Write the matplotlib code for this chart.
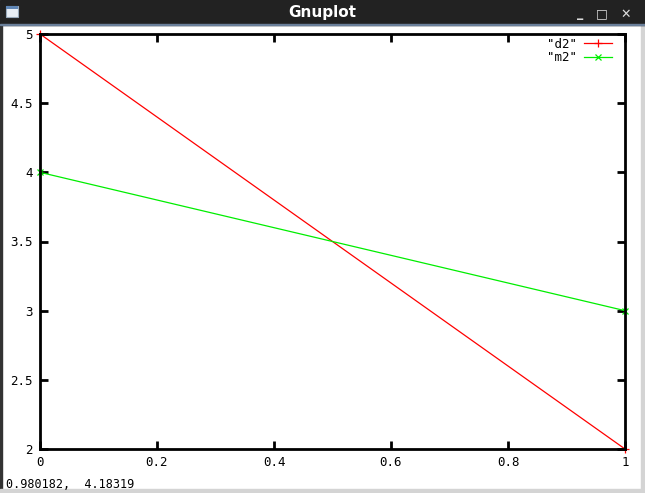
import matplotlib
matplotlib.use("Agg")
import matplotlib.pyplot as plt
from matplotlib.patches import Rectangle

# data
x_vals = [0, 1]
d2 = [5, 2]
m2 = [4, 3]
xticks = [0, 0.2, 0.4, 0.6, 0.8, 1]
yticks = [2, 2.5, 3, 3.5, 4, 4.5, 5]
xtick_labels = ["0", "0.2", "0.4", "0.6", "0.8", "1"]
ytick_labels = ["2", "2.5", "3", "3.5", "4", "4.5", "5"]
status_text = "0.980182,  4.18319"

W, H = 645, 493
fig = plt.figure(figsize=(W / 100, H / 100), dpi=100)
fig.patch.set_facecolor("white")

def box(x0, y0, w, h, **kw):
    # rectangle given in pixels from the top-left corner
    r = Rectangle((x0 / W, 1 - (y0 + h) / H), w / W, h / H,
                  transform=fig.transFigure, **kw)
    fig.patches.append(r)
    return r

# window frame
box(0, 25, 2, H - 25, color="#333333", zorder=0)
box(641, 25, 4, H - 25, color="#d4d4d4", zorder=0)
box(0, 489, W, 4, color="#d4d4d4", zorder=0)
box(0, 0, W, 25, color="#222222", zorder=1)
box(0, 24, W, 1, color="#6a7f9a", zorder=2)
fig.text(0.5, 1 - 12 / H, "Gnuplot", color="white", fontsize=11, fontweight="bold",
         ha="center", va="center", family="DejaVu Sans")
# window icon
box(6, 6, 12, 11, facecolor="#e8eef5", edgecolor="#99aabb", lw=0.8, zorder=3)
box(6, 6, 12, 3, facecolor="#5f86b5", zorder=4)
for bx, s in [(580, "_"), (602, "\u25a1"), (626, "\u2715")]:
    fig.text(bx / W, 1 - 14 / H, s, color="#dddddd", fontsize=9, ha="center", va="center",
             fontweight="bold", family="DejaVu Sans", zorder=5)

fig.text(6 / W, 1 - 484 / H, status_text, fontsize=8.5, family="DejaVu Sans Mono",
         ha="left", va="center")

ax = fig.add_axes((40 / W, 1 - 449 / H, 585 / W, 415 / H))
ax.plot(x_vals, d2, color="red", lw=0.9, marker="+", ms=6, mew=0.9, label='"d2"', clip_on=False)
ax.plot(x_vals, m2, color="#00ee00", lw=0.9, marker="x", ms=5, mew=0.9, label='"m2"', clip_on=False)
ax.set_xlim(0, 1)
ax.set_ylim(2, 5)
ax.set_xticks(xticks)
ax.set_xticklabels(xtick_labels)
ax.set_yticks(yticks)
ax.set_yticklabels(ytick_labels)
for sp in ax.spines.values():
    sp.set_linewidth(2)
ax.tick_params(direction="in", length=6, width=2, top=True, right=True,
               labelsize=9, pad=5)
for lab in ax.get_xticklabels() + ax.get_yticklabels():
    lab.set_family("DejaVu Sans Mono")
leg = ax.legend(loc="upper right", bbox_to_anchor=(1 - 9 / 585, 1), frameon=False,
                markerfirst=False, handlelength=2.3, handletextpad=0.5, borderaxespad=0.1,
                borderpad=0.2, labelspacing=0.05,
                prop={"family": "DejaVu Sans Mono", "size": 9})

fig.savefig("out.png", dpi=100)
